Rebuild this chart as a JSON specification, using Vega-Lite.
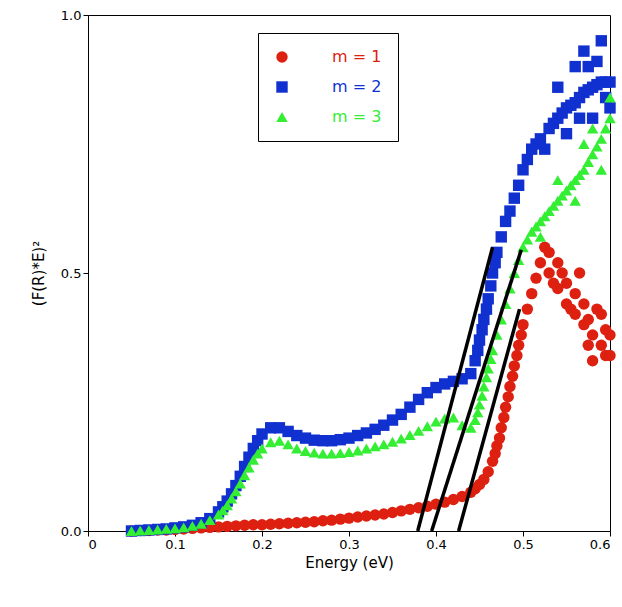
{
  "$schema": "https://vega.github.io/schema/vega-lite/v6.json",
  "width": 522,
  "height": 516,
  "autosize": "none",
  "padding": {"left": 88, "top": 15, "right": 12, "bottom": 76},
  "config": {
    "view": {"stroke": "black", "strokeWidth": 1},
    "axis": {"grid": false, "domainColor": "black", "tickColor": "black", "labelFont": "DejaVu Sans", "titleFont": "DejaVu Sans", "labelFontSize": 13, "titleFontSize": 15, "titleFontWeight": "normal", "labelColor": "black", "titleColor": "black"}
  },
  "datasets": {
    "pts": [
      {"s": "m = 1", "x": 0.05, "y": 0.0}, {"s": "m = 1", "x": 0.06, "y": 0.001}, {"s": "m = 1", "x": 0.07, "y": 0.001}, {"s": "m = 1", "x": 0.08, "y": 0.002}, {"s": "m = 1", "x": 0.09, "y": 0.002}, {"s": "m = 1", "x": 0.1, "y": 0.003}, {"s": "m = 1", "x": 0.11, "y": 0.004}, {"s": "m = 1", "x": 0.12, "y": 0.005}, {"s": "m = 1", "x": 0.13, "y": 0.006}, {"s": "m = 1", "x": 0.14, "y": 0.007}, {"s": "m = 1", "x": 0.15, "y": 0.008}, {"s": "m = 1", "x": 0.16, "y": 0.009}, {"s": "m = 1", "x": 0.17, "y": 0.01}, {"s": "m = 1", "x": 0.18, "y": 0.011}, {"s": "m = 1", "x": 0.19, "y": 0.012}, {"s": "m = 1", "x": 0.2, "y": 0.012}, {"s": "m = 1", "x": 0.21, "y": 0.013}, {"s": "m = 1", "x": 0.22, "y": 0.014}, {"s": "m = 1", "x": 0.23, "y": 0.015}, {"s": "m = 1", "x": 0.24, "y": 0.016}, {"s": "m = 1", "x": 0.25, "y": 0.017}, {"s": "m = 1", "x": 0.26, "y": 0.018}, {"s": "m = 1", "x": 0.27, "y": 0.02}, {"s": "m = 1", "x": 0.28, "y": 0.021}, {"s": "m = 1", "x": 0.29, "y": 0.023}, {"s": "m = 1", "x": 0.3, "y": 0.025}, {"s": "m = 1", "x": 0.31, "y": 0.027}, {"s": "m = 1", "x": 0.32, "y": 0.029}, {"s": "m = 1", "x": 0.33, "y": 0.031}, {"s": "m = 1", "x": 0.34, "y": 0.033}, {"s": "m = 1", "x": 0.35, "y": 0.036}, {"s": "m = 1", "x": 0.36, "y": 0.039}, {"s": "m = 1", "x": 0.37, "y": 0.042}, {"s": "m = 1", "x": 0.38, "y": 0.045}, {"s": "m = 1", "x": 0.39, "y": 0.048}, {"s": "m = 1", "x": 0.4, "y": 0.052}, {"s": "m = 1", "x": 0.41, "y": 0.056}, {"s": "m = 1", "x": 0.42, "y": 0.061}, {"s": "m = 1", "x": 0.43, "y": 0.067}, {"s": "m = 1", "x": 0.44, "y": 0.075}, {"s": "m = 1", "x": 0.445, "y": 0.082}, {"s": "m = 1", "x": 0.45, "y": 0.09}, {"s": "m = 1", "x": 0.455, "y": 0.1}, {"s": "m = 1", "x": 0.46, "y": 0.115}, {"s": "m = 1", "x": 0.465, "y": 0.135}, {"s": "m = 1", "x": 0.468, "y": 0.15}, {"s": "m = 1", "x": 0.47, "y": 0.165}, {"s": "m = 1", "x": 0.473, "y": 0.18}, {"s": "m = 1", "x": 0.475, "y": 0.2}, {"s": "m = 1", "x": 0.478, "y": 0.22}, {"s": "m = 1", "x": 0.48, "y": 0.24}, {"s": "m = 1", "x": 0.483, "y": 0.26}, {"s": "m = 1", "x": 0.485, "y": 0.28}, {"s": "m = 1", "x": 0.488, "y": 0.3}, {"s": "m = 1", "x": 0.49, "y": 0.32}, {"s": "m = 1", "x": 0.493, "y": 0.34}, {"s": "m = 1", "x": 0.495, "y": 0.36}, {"s": "m = 1", "x": 0.498, "y": 0.38}, {"s": "m = 1", "x": 0.5, "y": 0.4}, {"s": "m = 1", "x": 0.505, "y": 0.43}, {"s": "m = 1", "x": 0.51, "y": 0.46}, {"s": "m = 1", "x": 0.515, "y": 0.49}, {"s": "m = 1", "x": 0.52, "y": 0.52}, {"s": "m = 1", "x": 0.525, "y": 0.55}, {"s": "m = 1", "x": 0.53, "y": 0.5}, {"s": "m = 1", "x": 0.535, "y": 0.48}, {"s": "m = 1", "x": 0.54, "y": 0.47}, {"s": "m = 1", "x": 0.545, "y": 0.5}, {"s": "m = 1", "x": 0.55, "y": 0.44}, {"s": "m = 1", "x": 0.555, "y": 0.43}, {"s": "m = 1", "x": 0.56, "y": 0.42}, {"s": "m = 1", "x": 0.565, "y": 0.5}, {"s": "m = 1", "x": 0.57, "y": 0.4}, {"s": "m = 1", "x": 0.575, "y": 0.36}, {"s": "m = 1", "x": 0.58, "y": 0.38}, {"s": "m = 1", "x": 0.585, "y": 0.43}, {"s": "m = 1", "x": 0.59, "y": 0.36}, {"s": "m = 1", "x": 0.595, "y": 0.34}, {"s": "m = 1", "x": 0.6, "y": 0.34}, {"s": "m = 1", "x": 0.59, "y": 0.42}, {"s": "m = 1", "x": 0.6, "y": 0.38}, {"s": "m = 1", "x": 0.58, "y": 0.33}, {"s": "m = 1", "x": 0.55, "y": 0.48}, {"s": "m = 1", "x": 0.53, "y": 0.54}, {"s": "m = 1", "x": 0.54, "y": 0.52}, {"s": "m = 1", "x": 0.56, "y": 0.46}, {"s": "m = 1", "x": 0.57, "y": 0.44}, {"s": "m = 1", "x": 0.575, "y": 0.41}, {"s": "m = 1", "x": 0.595, "y": 0.39},
      {"s": "m = 2", "x": 0.05, "y": 0.0}, {"s": "m = 2", "x": 0.06, "y": 0.001}, {"s": "m = 2", "x": 0.07, "y": 0.002}, {"s": "m = 2", "x": 0.08, "y": 0.003}, {"s": "m = 2", "x": 0.09, "y": 0.004}, {"s": "m = 2", "x": 0.1, "y": 0.006}, {"s": "m = 2", "x": 0.11, "y": 0.008}, {"s": "m = 2", "x": 0.12, "y": 0.011}, {"s": "m = 2", "x": 0.13, "y": 0.016}, {"s": "m = 2", "x": 0.14, "y": 0.024}, {"s": "m = 2", "x": 0.15, "y": 0.037}, {"s": "m = 2", "x": 0.155, "y": 0.047}, {"s": "m = 2", "x": 0.16, "y": 0.058}, {"s": "m = 2", "x": 0.165, "y": 0.072}, {"s": "m = 2", "x": 0.17, "y": 0.088}, {"s": "m = 2", "x": 0.175, "y": 0.106}, {"s": "m = 2", "x": 0.18, "y": 0.125}, {"s": "m = 2", "x": 0.185, "y": 0.143}, {"s": "m = 2", "x": 0.19, "y": 0.16}, {"s": "m = 2", "x": 0.195, "y": 0.175}, {"s": "m = 2", "x": 0.2, "y": 0.188}, {"s": "m = 2", "x": 0.21, "y": 0.2}, {"s": "m = 2", "x": 0.22, "y": 0.2}, {"s": "m = 2", "x": 0.23, "y": 0.193}, {"s": "m = 2", "x": 0.24, "y": 0.185}, {"s": "m = 2", "x": 0.25, "y": 0.18}, {"s": "m = 2", "x": 0.26, "y": 0.176}, {"s": "m = 2", "x": 0.27, "y": 0.175}, {"s": "m = 2", "x": 0.28, "y": 0.175}, {"s": "m = 2", "x": 0.29, "y": 0.177}, {"s": "m = 2", "x": 0.3, "y": 0.18}, {"s": "m = 2", "x": 0.31, "y": 0.185}, {"s": "m = 2", "x": 0.32, "y": 0.19}, {"s": "m = 2", "x": 0.33, "y": 0.197}, {"s": "m = 2", "x": 0.34, "y": 0.205}, {"s": "m = 2", "x": 0.35, "y": 0.215}, {"s": "m = 2", "x": 0.36, "y": 0.226}, {"s": "m = 2", "x": 0.37, "y": 0.24}, {"s": "m = 2", "x": 0.38, "y": 0.255}, {"s": "m = 2", "x": 0.39, "y": 0.268}, {"s": "m = 2", "x": 0.4, "y": 0.278}, {"s": "m = 2", "x": 0.41, "y": 0.285}, {"s": "m = 2", "x": 0.42, "y": 0.29}, {"s": "m = 2", "x": 0.43, "y": 0.295}, {"s": "m = 2", "x": 0.44, "y": 0.305}, {"s": "m = 2", "x": 0.445, "y": 0.33}, {"s": "m = 2", "x": 0.448, "y": 0.35}, {"s": "m = 2", "x": 0.45, "y": 0.37}, {"s": "m = 2", "x": 0.453, "y": 0.39}, {"s": "m = 2", "x": 0.455, "y": 0.41}, {"s": "m = 2", "x": 0.458, "y": 0.43}, {"s": "m = 2", "x": 0.46, "y": 0.45}, {"s": "m = 2", "x": 0.463, "y": 0.475}, {"s": "m = 2", "x": 0.465, "y": 0.5}, {"s": "m = 2", "x": 0.468, "y": 0.52}, {"s": "m = 2", "x": 0.47, "y": 0.54}, {"s": "m = 2", "x": 0.475, "y": 0.57}, {"s": "m = 2", "x": 0.48, "y": 0.6}, {"s": "m = 2", "x": 0.485, "y": 0.62}, {"s": "m = 2", "x": 0.49, "y": 0.645}, {"s": "m = 2", "x": 0.495, "y": 0.67}, {"s": "m = 2", "x": 0.5, "y": 0.7}, {"s": "m = 2", "x": 0.505, "y": 0.72}, {"s": "m = 2", "x": 0.51, "y": 0.74}, {"s": "m = 2", "x": 0.515, "y": 0.75}, {"s": "m = 2", "x": 0.52, "y": 0.76}, {"s": "m = 2", "x": 0.525, "y": 0.74}, {"s": "m = 2", "x": 0.53, "y": 0.78}, {"s": "m = 2", "x": 0.535, "y": 0.79}, {"s": "m = 2", "x": 0.54, "y": 0.8}, {"s": "m = 2", "x": 0.545, "y": 0.81}, {"s": "m = 2", "x": 0.55, "y": 0.82}, {"s": "m = 2", "x": 0.555, "y": 0.825}, {"s": "m = 2", "x": 0.56, "y": 0.83}, {"s": "m = 2", "x": 0.565, "y": 0.84}, {"s": "m = 2", "x": 0.57, "y": 0.85}, {"s": "m = 2", "x": 0.575, "y": 0.855}, {"s": "m = 2", "x": 0.58, "y": 0.86}, {"s": "m = 2", "x": 0.585, "y": 0.865}, {"s": "m = 2", "x": 0.59, "y": 0.87}, {"s": "m = 2", "x": 0.595, "y": 0.87}, {"s": "m = 2", "x": 0.6, "y": 0.87}, {"s": "m = 2", "x": 0.57, "y": 0.93}, {"s": "m = 2", "x": 0.59, "y": 0.95}, {"s": "m = 2", "x": 0.56, "y": 0.9}, {"s": "m = 2", "x": 0.58, "y": 0.8}, {"s": "m = 2", "x": 0.6, "y": 0.82}, {"s": "m = 2", "x": 0.55, "y": 0.77}, {"s": "m = 2", "x": 0.54, "y": 0.86}, {"s": "m = 2", "x": 0.585, "y": 0.91}, {"s": "m = 2", "x": 0.575, "y": 0.9}, {"s": "m = 2", "x": 0.565, "y": 0.8}, {"s": "m = 2", "x": 0.595, "y": 0.84},
      {"s": "m = 3", "x": 0.05, "y": 0.0}, {"s": "m = 3", "x": 0.06, "y": 0.001}, {"s": "m = 3", "x": 0.07, "y": 0.002}, {"s": "m = 3", "x": 0.08, "y": 0.003}, {"s": "m = 3", "x": 0.09, "y": 0.004}, {"s": "m = 3", "x": 0.1, "y": 0.005}, {"s": "m = 3", "x": 0.11, "y": 0.007}, {"s": "m = 3", "x": 0.12, "y": 0.01}, {"s": "m = 3", "x": 0.13, "y": 0.014}, {"s": "m = 3", "x": 0.14, "y": 0.021}, {"s": "m = 3", "x": 0.15, "y": 0.032}, {"s": "m = 3", "x": 0.155, "y": 0.04}, {"s": "m = 3", "x": 0.16, "y": 0.05}, {"s": "m = 3", "x": 0.165, "y": 0.063}, {"s": "m = 3", "x": 0.17, "y": 0.077}, {"s": "m = 3", "x": 0.175, "y": 0.092}, {"s": "m = 3", "x": 0.18, "y": 0.108}, {"s": "m = 3", "x": 0.185, "y": 0.123}, {"s": "m = 3", "x": 0.19, "y": 0.138}, {"s": "m = 3", "x": 0.195, "y": 0.15}, {"s": "m = 3", "x": 0.2, "y": 0.16}, {"s": "m = 3", "x": 0.21, "y": 0.172}, {"s": "m = 3", "x": 0.22, "y": 0.175}, {"s": "m = 3", "x": 0.23, "y": 0.168}, {"s": "m = 3", "x": 0.24, "y": 0.16}, {"s": "m = 3", "x": 0.25, "y": 0.155}, {"s": "m = 3", "x": 0.26, "y": 0.152}, {"s": "m = 3", "x": 0.27, "y": 0.15}, {"s": "m = 3", "x": 0.28, "y": 0.15}, {"s": "m = 3", "x": 0.29, "y": 0.151}, {"s": "m = 3", "x": 0.3, "y": 0.153}, {"s": "m = 3", "x": 0.31, "y": 0.156}, {"s": "m = 3", "x": 0.32, "y": 0.16}, {"s": "m = 3", "x": 0.33, "y": 0.164}, {"s": "m = 3", "x": 0.34, "y": 0.168}, {"s": "m = 3", "x": 0.35, "y": 0.173}, {"s": "m = 3", "x": 0.36, "y": 0.179}, {"s": "m = 3", "x": 0.37, "y": 0.186}, {"s": "m = 3", "x": 0.38, "y": 0.194}, {"s": "m = 3", "x": 0.39, "y": 0.203}, {"s": "m = 3", "x": 0.4, "y": 0.212}, {"s": "m = 3", "x": 0.41, "y": 0.218}, {"s": "m = 3", "x": 0.42, "y": 0.22}, {"s": "m = 3", "x": 0.43, "y": 0.205}, {"s": "m = 3", "x": 0.44, "y": 0.2}, {"s": "m = 3", "x": 0.445, "y": 0.215}, {"s": "m = 3", "x": 0.448, "y": 0.23}, {"s": "m = 3", "x": 0.45, "y": 0.245}, {"s": "m = 3", "x": 0.453, "y": 0.262}, {"s": "m = 3", "x": 0.455, "y": 0.28}, {"s": "m = 3", "x": 0.458, "y": 0.298}, {"s": "m = 3", "x": 0.46, "y": 0.315}, {"s": "m = 3", "x": 0.463, "y": 0.333}, {"s": "m = 3", "x": 0.465, "y": 0.35}, {"s": "m = 3", "x": 0.47, "y": 0.38}, {"s": "m = 3", "x": 0.475, "y": 0.41}, {"s": "m = 3", "x": 0.48, "y": 0.44}, {"s": "m = 3", "x": 0.485, "y": 0.47}, {"s": "m = 3", "x": 0.49, "y": 0.5}, {"s": "m = 3", "x": 0.495, "y": 0.525}, {"s": "m = 3", "x": 0.5, "y": 0.55}, {"s": "m = 3", "x": 0.505, "y": 0.565}, {"s": "m = 3", "x": 0.51, "y": 0.58}, {"s": "m = 3", "x": 0.515, "y": 0.59}, {"s": "m = 3", "x": 0.52, "y": 0.6}, {"s": "m = 3", "x": 0.525, "y": 0.61}, {"s": "m = 3", "x": 0.53, "y": 0.62}, {"s": "m = 3", "x": 0.535, "y": 0.63}, {"s": "m = 3", "x": 0.54, "y": 0.64}, {"s": "m = 3", "x": 0.545, "y": 0.65}, {"s": "m = 3", "x": 0.55, "y": 0.66}, {"s": "m = 3", "x": 0.555, "y": 0.67}, {"s": "m = 3", "x": 0.56, "y": 0.68}, {"s": "m = 3", "x": 0.565, "y": 0.69}, {"s": "m = 3", "x": 0.57, "y": 0.7}, {"s": "m = 3", "x": 0.575, "y": 0.715}, {"s": "m = 3", "x": 0.58, "y": 0.73}, {"s": "m = 3", "x": 0.585, "y": 0.745}, {"s": "m = 3", "x": 0.59, "y": 0.76}, {"s": "m = 3", "x": 0.595, "y": 0.78}, {"s": "m = 3", "x": 0.6, "y": 0.8}, {"s": "m = 3", "x": 0.6, "y": 0.84}, {"s": "m = 3", "x": 0.59, "y": 0.7}, {"s": "m = 3", "x": 0.57, "y": 0.75}, {"s": "m = 3", "x": 0.56, "y": 0.64}, {"s": "m = 3", "x": 0.54, "y": 0.68}, {"s": "m = 3", "x": 0.52, "y": 0.57}, {"s": "m = 3", "x": 0.58, "y": 0.78}
    ],
    "fits": [
      {"k": "a", "x": 0.379, "y": 0.0}, {"k": "a", "x": 0.465, "y": 0.55},
      {"k": "b", "x": 0.395, "y": 0.0}, {"k": "b", "x": 0.498, "y": 0.545},
      {"k": "c", "x": 0.426, "y": 0.0}, {"k": "c", "x": 0.496, "y": 0.43}
    ]
  },
  "layer": [
    {
      "data": {"name": "pts"},
      "mark": {"type": "point", "filled": true, "size": 130, "opacity": 1},
      "encoding": {
        "x": {"field": "x", "type": "quantitative", "scale": {"domain": [0, 0.6], "nice": false}, "axis": {"title": "Energy (eV)", "values": [0, 0.1, 0.2, 0.3, 0.4, 0.5, 0.6], "format": ".1~f", "tickSize": 5}},
        "y": {"field": "y", "type": "quantitative", "scale": {"domain": [0, 1], "nice": false}, "axis": {"title": "(F(R)*E)²", "values": [0, 0.5, 1], "format": ".1f", "tickSize": 5, "titlePadding": 14}},
        "color": {"field": "s", "type": "nominal", "scale": {"domain": ["m = 1", "m = 2", "m = 3"], "range": ["#dd2010", "#1030d0", "#33ee33"]},
          "legend": {"title": null, "orient": "none", "legendX": 170, "legendY": 18, "strokeColor": "black", "padding": 16, "labelFontSize": 16, "labelFont": "DejaVu Sans", "labelOffset": 42, "symbolSize": 130, "rowPadding": 14,
            "labelColor": {"expr": "datum.value == 'm = 1' ? '#dd2010' : datum.value == 'm = 2' ? '#1030d0' : '#33ee33'"}}},
        "shape": {"field": "s", "type": "nominal", "scale": {"domain": ["m = 1", "m = 2", "m = 3"], "range": ["circle", "square", "triangle-up"]}}
      }
    },
    {
      "data": {"name": "fits"},
      "mark": {"type": "line", "color": "black", "strokeWidth": 3.5},
      "encoding": {
        "x": {"field": "x", "type": "quantitative"},
        "y": {"field": "y", "type": "quantitative"},
        "detail": {"field": "k"}
      }
    }
  ]
}
